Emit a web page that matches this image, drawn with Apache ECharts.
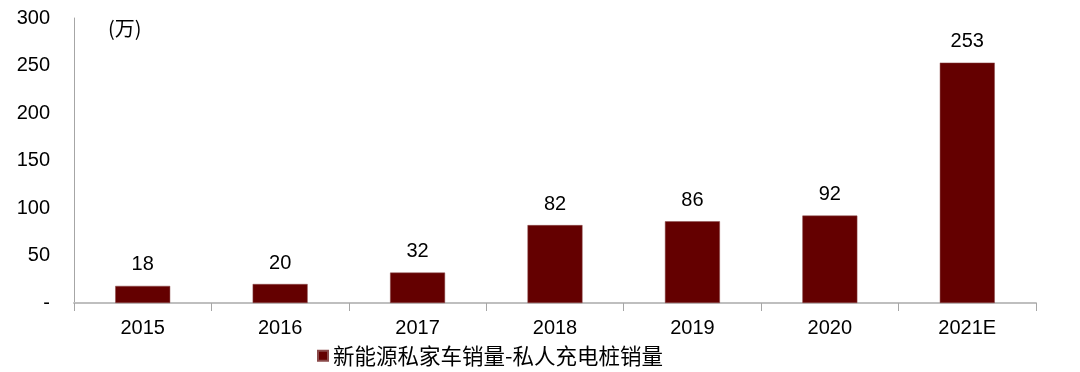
<!DOCTYPE html>
<html><head><meta charset="utf-8">
<script src="https://cdn.jsdelivr.net/npm/echarts@6/dist/echarts.min.js"></script>
<style>html,body{margin:0;padding:0;background:#fff}#c{width:1080px;height:372px}</style>
</head><body><div id="c"></div>
<script>
const categories = ['2015','2016','2017','2018','2019','2020','2021E'];
const values = [18, 20, 32, 82, 86, 92, 253];
const seriesName = '新能源私家车销量-私人充电桩销量';
const yTicks = [0, 50, 100, 150, 200, 250, 300];
const unitLabel = '(万)';

const font = '"Liberation Sans", Arial, "Noto Sans CJK SC", sans-serif';
const cjk = '"Noto Sans CJK SC", sans-serif';
const chart = echarts.init(document.getElementById('c'), null, {renderer:'canvas'});
chart.setOption({
  animation:false,
  textStyle:{fontFamily:font},
  grid:{left:74,right:44,top:18,bottom:69,containLabel:false},
  legend:{
    data:[seriesName], left:312, top:340, itemWidth:10, itemHeight:10, itemGap:4,
    icon:'rect',
    textStyle:{fontSize:21.5,color:'#000',fontFamily:cjk}
  },
  graphic:[{type:'text', left:108, top:18, style:{text:unitLabel, fontSize:20, fill:'#000', fontFamily:cjk}}],
  xAxis:{
    type:'category', data:categories,
    axisLine:{lineStyle:{color:'#bfbfbf',width:2}},
    axisTick:{show:true, length:8, lineStyle:{color:'#a6a6a6'}, alignWithLabel:false},
    axisLabel:{fontSize:20,color:'#000',margin:15,fontFamily:font}
  },
  yAxis:{
    type:'value', min:yTicks[0], max:yTicks[yTicks.length-1], interval:50,
    axisLine:{show:true, lineStyle:{color:'#a6a6a6'}},
    axisTick:{show:false},
    splitLine:{show:false},
    axisLabel:{fontSize:20,color:'#000',margin:24,fontFamily:font,
      formatter:v=> v===0 ? '-' : String(v)}
  },
  series:[{
    name:seriesName, type:'bar', data:values, barWidth:'40%',
    itemStyle:{color:'#640000', borderColor:'#8a4a4a', borderWidth:0.5},
    label:{show:true, position:'top', distance:11, fontSize:20, color:'#000', fontFamily:font}
  }]
});
</script></body></html>
